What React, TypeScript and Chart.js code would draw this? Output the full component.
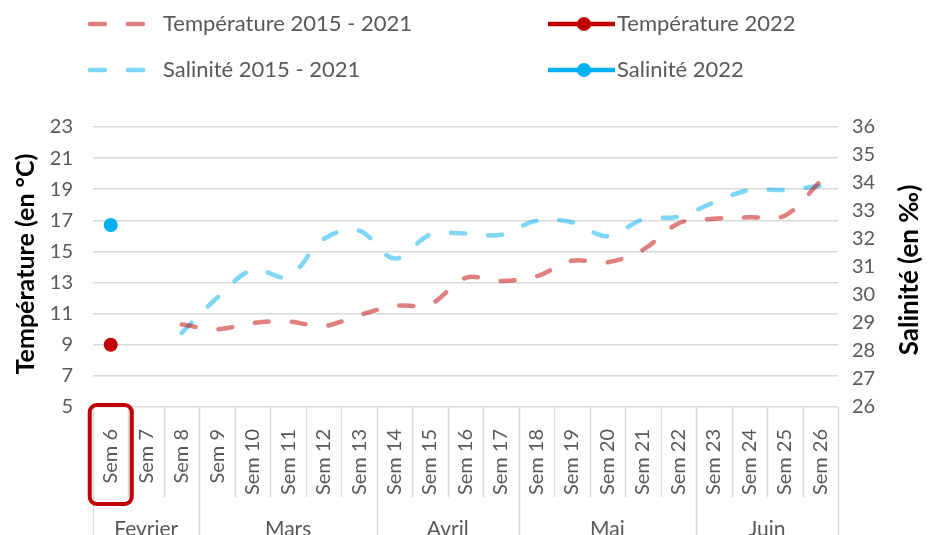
import React, { useEffect, useRef } from 'react';
import { Chart, registerables } from 'chart.js';

Chart.register(...registerables);

const weeks = ['Sem 6', 'Sem 7', 'Sem 8', 'Sem 9', 'Sem 10', 'Sem 11', 'Sem 12', 'Sem 13', 'Sem 14', 'Sem 15', 'Sem 16', 'Sem 17', 'Sem 18', 'Sem 19', 'Sem 20', 'Sem 21', 'Sem 22', 'Sem 23', 'Sem 24', 'Sem 25', 'Sem 26'];
const months = ['Fevrier', 'Mars', 'Avril', 'Mai', 'Juin'];
const monthSpans = [3, 5, 4, 5, 4];

const temp2015_2021 = [null, null, 10.3, 10.0, 10.4, 10.5, 10.2, 10.9, 11.5, 11.6, 13.3, 13.1, 13.4, 14.4, 14.3, 15.1, 16.8, 17.1, 17.2, 17.3, 19.5];
const temp2022 = [9.0, null, null, null, null, null, null, null, null, null, null, null, null, null, null, null, null, null, null, null, null];
const sal2015_2021 = [null, null, 28.65, 29.9, 30.9, 30.65, 32.0, 32.3, 31.3, 32.15, 32.2, 32.15, 32.65, 32.6, 32.1, 32.7, 32.8, 33.3, 33.75, 33.75, 33.9];
const sal2022 = [32.5, null, null, null, null, null, null, null, null, null, null, null, null, null, null, null, null, null, null, null, null];

const tempMin = 5, tempMax = 23, tempStep = 2;
const salMin = 26, salMax = 36, salStep = 1;

const legendLabels = ['Température 2015 - 2021', 'Température 2022', 'Salinité 2015 - 2021', 'Salinité 2022'];
const leftTitle = 'Température (en °C)';
const rightTitle = 'Salinité (en ‰)';

const RED = '#C00000';
const RED_LIGHT = 'rgba(192,0,0,0.5)';
const BLUE = '#00B0F0';
const BLUE_LIGHT = 'rgba(0,176,240,0.5)';
const GRAY_TEXT = '#595959';
const GRID = '#d9d9d9';
const FONT = 'Lato';

const overlayPlugin = {
  id: 'overlay',
  afterDraw(chart: any) {
    const ctx = chart.ctx;
    const xs = chart.scales.x;
    const area = chart.chartArea;
    const n = weeks.length;
    const w = (area.right - area.left) / n;
    ctx.save();
    // category separators
    const groupBounds = new Set<number>();
    let acc = 0;
    groupBounds.add(0);
    monthSpans.forEach((s) => { acc += s; groupBounds.add(acc); });
    ctx.strokeStyle = GRID;
    ctx.lineWidth = 1.5;
    for (let k = 0; k <= n; k++) {
      const x = Math.round(xs.getPixelForValue(k) - w / 2) + 0.5;
      const yEnd = groupBounds.has(k) ? 535 : 497;
      ctx.beginPath();
      ctx.moveTo(x, area.bottom);
      ctx.lineTo(x, yEnd);
      ctx.stroke();
    }
    // month labels
    ctx.fillStyle = GRAY_TEXT;
    ctx.font = `21px ${FONT}`;
    ctx.textAlign = 'center';
    ctx.textBaseline = 'alphabetic';
    let start = 0;
    months.forEach((m, i) => {
      const end = start + monthSpans[i] - 1;
      const cx = (xs.getPixelForValue(start) + xs.getPixelForValue(end)) / 2;
      ctx.fillText(m, cx, 536);
      start += monthSpans[i];
    });
    // red box around Sem 6
    const c0 = xs.getPixelForValue(0);
    ctx.strokeStyle = RED;
    ctx.lineWidth = 4;
    ctx.beginPath();
    (ctx as any).roundRect(c0 - 21, 405, 42, 99, 7);
    ctx.stroke();
    // axis titles
    ctx.fillStyle = '#000000';
    ctx.font = `bold 25px ${FONT}`;
    ctx.textAlign = 'center';
    ctx.textBaseline = 'middle';
    ctx.save();
    ctx.translate(26, 264);
    ctx.rotate(-Math.PI / 2);
    ctx.fillText(leftTitle, 0, 0);
    ctx.restore();
    ctx.save();
    ctx.translate(910, 270);
    ctx.rotate(-Math.PI / 2);
    ctx.font = `bold 26px ${FONT}`;
    ctx.fillText(rightTitle, 0, 0);
    ctx.restore();
    // legend
    const rows = [24, 70];
    const items = [
      { x: 88, y: rows[0], color: RED_LIGHT, dashed: true, label: legendLabels[0] },
      { x: 548, y: rows[0], color: RED, dashed: false, label: legendLabels[1] },
      { x: 88, y: rows[1], color: BLUE_LIGHT, dashed: true, label: legendLabels[2] },
      { x: 548, y: rows[1], color: BLUE, dashed: false, label: legendLabels[3] },
    ];
    items.forEach((it) => {
      ctx.save();
      ctx.strokeStyle = it.color;
      ctx.lineWidth = 4.5;
      if (it.dashed) {
        ctx.lineCap = 'round';
        ctx.setLineDash([15, 23]);
        ctx.beginPath();
        ctx.moveTo(it.x + 2, it.y);
        ctx.lineTo(it.x + 57, it.y);
        ctx.stroke();
      } else {
        ctx.beginPath();
        ctx.moveTo(it.x, it.y);
        ctx.lineTo(it.x + 67, it.y);
        ctx.stroke();
        ctx.fillStyle = it.color;
        ctx.beginPath();
        ctx.arc(it.x + 36, it.y, 7, 0, Math.PI * 2);
        ctx.fill();
      }
      ctx.restore();
      ctx.fillStyle = GRAY_TEXT;
      ctx.font = `22px ${FONT}`;
      ctx.textAlign = 'left';
      ctx.textBaseline = 'middle';
      ctx.fillText(it.label, it.dashed ? 163 : 617, it.y);
    });
    ctx.restore();
  },
};

export default function App() {
  const ref = useRef<HTMLCanvasElement | null>(null);
  useEffect(() => {
    if (!ref.current) return;
    const chart = new Chart(ref.current, {
      type: 'line',
      data: {
        labels: weeks,
        datasets: [
          {
            label: legendLabels[0], data: temp2015_2021 as any, yAxisID: 'y',
            borderColor: RED_LIGHT, borderWidth: 4.5, borderDash: [14, 23], borderCapStyle: 'round',
            pointRadius: 0, tension: 0.35, fill: false,
          },
          {
            label: legendLabels[2], data: sal2015_2021 as any, yAxisID: 'y1',
            borderColor: BLUE_LIGHT, borderWidth: 4.5, borderDash: [14, 23], borderCapStyle: 'round',
            pointRadius: 0, tension: 0.35, fill: false,
          },
          {
            label: legendLabels[1], data: temp2022 as any, yAxisID: 'y',
            borderColor: RED, backgroundColor: RED, borderWidth: 4.5,
            pointRadius: 7, pointBorderWidth: 0, pointBackgroundColor: RED, fill: false,
          },
          {
            label: legendLabels[3], data: sal2022 as any, yAxisID: 'y1',
            borderColor: BLUE, backgroundColor: BLUE, borderWidth: 4.5,
            pointRadius: 7, pointBorderWidth: 0, pointBackgroundColor: BLUE, fill: false,
          },
        ],
      },
      options: {
        responsive: false,
        animation: false,
        devicePixelRatio: 1,
        layout: { padding: { top: 127, left: 0, right: 0, bottom: 0 } },
        plugins: { legend: { display: false }, tooltip: { enabled: false } },
        scales: {
          x: {
            type: 'category',
            offset: true,
            grid: { display: false },
            border: { display: false },
            ticks: {
              minRotation: 90, maxRotation: 90, autoSkip: false,
              color: GRAY_TEXT, font: { family: FONT, size: 20 }, padding: 14,
            },
            afterFit(scale: any) { scale.height = 128; },
          },
          y: {
            position: 'left',
            min: tempMin, max: tempMax,
            ticks: { stepSize: tempStep, color: GRAY_TEXT, font: { family: FONT, size: 20 }, padding: 20 },
            grid: { color: GRID, lineWidth: 1.5, drawTicks: false },
            border: { display: false },
            afterFit(scale: any) { scale.width = 93; },
          },
          y1: {
            position: 'right',
            min: salMin, max: salMax,
            ticks: { stepSize: salStep, color: GRAY_TEXT, font: { family: FONT, size: 20 }, padding: 14 },
            grid: { drawOnChartArea: false, drawTicks: false },
            border: { display: false },
            afterFit(scale: any) { scale.width = 98; },
          },
        },
      } as any,
      plugins: [overlayPlugin],
    });
    return () => chart.destroy();
  }, []);
  return (
    <div style={{ position: 'absolute', left: 0, top: 0, width: 936, height: 535, background: '#fff' }}>
      <canvas ref={ref} width={936} height={535} style={{ width: 936, height: 535 }} />
    </div>
  );
}
